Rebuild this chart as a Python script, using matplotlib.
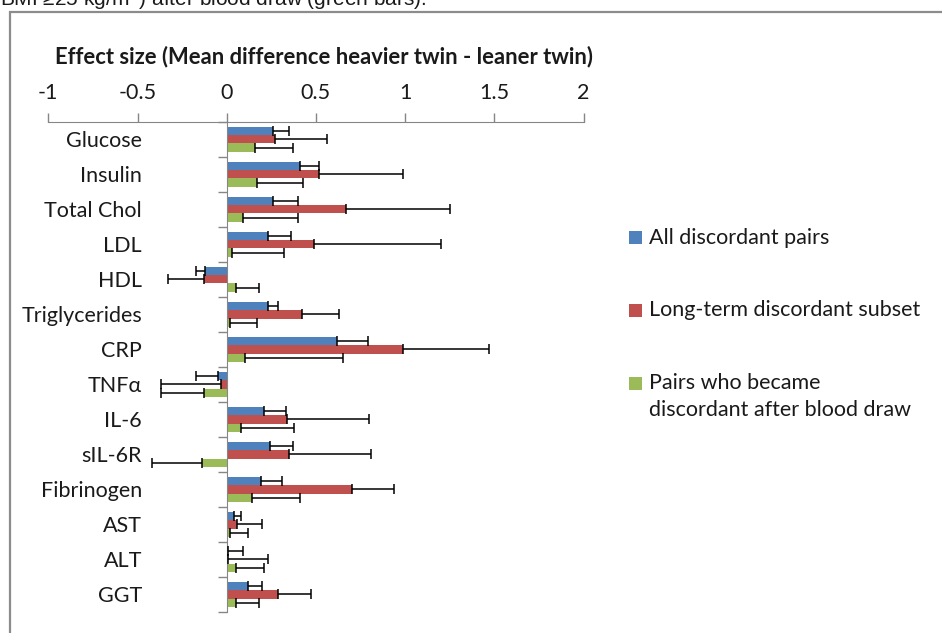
import numpy as np
import matplotlib
matplotlib.use("Agg")
import matplotlib.pyplot as plt
from matplotlib.patches import Rectangle

plt.rcParams["font.family"] = ["Lato", "DejaVu Sans"]

# Biomarkers, top to bottom
markers = ["Glucose", "Insulin", "Total Chol", "LDL", "HDL", "Triglycerides",
           "CRP", "TNF\u03b1", "IL-6", "sIL-6R", "Fibrinogen", "AST", "ALT", "GGT"]

# Mean difference (heavier twin - leaner twin) and error bar lengths
all_pairs = [0.26, 0.41, 0.26, 0.23, -0.12, 0.23, 0.62, -0.05, 0.21, 0.24, 0.19, 0.04, 0.01, 0.12]
all_err = [0.09, 0.11, 0.14, 0.13, 0.05, 0.06, 0.17, 0.12, 0.12, 0.13, 0.12, 0.04, 0.08, 0.08]

long_term = [0.27, 0.52, 0.67, 0.49, -0.13, 0.42, 0.99, -0.03, 0.34, 0.35, 0.70, 0.06, 0.01, 0.29]
long_err = [0.29, 0.47, 0.58, 0.71, 0.20, 0.21, 0.48, 0.34, 0.46, 0.46, 0.24, 0.14, 0.22, 0.18]

after_draw = [0.16, 0.17, 0.09, 0.03, 0.05, 0.02, 0.10, -0.13, 0.08, -0.14, 0.14, 0.02, 0.05, 0.05]
after_err = [0.21, 0.26, 0.31, 0.29, 0.13, 0.15, 0.55, 0.24, 0.30, 0.28, 0.27, 0.10, 0.16, 0.13]

series_names = ["All discordant pairs", "Long-term discordant subset",
                "Pairs who became\ndiscordant after blood draw"]
colors = ["#4F81BD", "#C0504D", "#9BBB59"]

W, H = 942, 633
fig = plt.figure(figsize=(W / 100, H / 100), dpi=100)

# plot area in pixel terms
x0, x1 = 48.3, 583.5
y_top, y_bot = 121.7, 612.0
ax = fig.add_axes([x0 / W, 1 - y_bot / H, (x1 - x0) / W, (y_bot - y_top) / H])

n = len(markers)
pos = np.arange(n)
bar_h = 0.24
offsets = [-bar_h, 0, bar_h]
gray = "#868686"
txt = "#1a1a1a"
fs = 15.5

for vals, errs, off, col, name in zip([all_pairs, long_term, after_draw],
                                      [all_err, long_err, after_err],
                                      offsets, colors, series_names):
    vals = np.array(vals)
    errs = np.array(errs)
    # error bars only extend away from zero
    lower = np.where(vals < 0, errs, 0)
    upper = np.where(vals >= 0, errs, 0)
    ax.barh(pos + off, vals, height=bar_h, color=col, zorder=2, label=name)
    ax.errorbar(vals, pos + off, xerr=[lower, upper], fmt="none", ecolor="black",
                elinewidth=1.1, capsize=3.5, capthick=1.1, zorder=3)

ax.set_xlim(-1, 2)
ax.set_ylim(n - 0.5, -0.5)
ax.set_xticks(np.arange(-1, 2.01, 0.5))
ax.set_xticklabels(["-1", "-0.5", "0", "0.5", "1", "1.5", "2"])
ax.xaxis.set_ticks_position("top")
ax.tick_params(axis="x", direction="out", length=6.5, width=1, color=gray,
               labelsize=fs, pad=7, labelcolor=txt)

# category boundaries as ticks, names at the centres placed low on the left
ax.set_yticks(np.arange(-0.5, n, 1))
ax.set_yticklabels([])
ax.set_yticks(pos, minor=True)
ax.set_yticklabels(markers, minor=True)
ax.tick_params(axis="y", which="major", direction="out", length=6.5, width=1, color=gray)
ax.tick_params(axis="y", which="minor", length=0, pad=61, labelsize=fs, labelcolor=txt)

ax.spines["left"].set_position(("data", 0))
ax.spines["left"].set_color(gray)
ax.spines["top"].set_color(gray)
ax.spines["right"].set_visible(False)
ax.spines["bottom"].set_visible(False)
ax.set_facecolor("none")

fig.text(55 / W, 1 - 57 / H, "Effect size (Mean difference heavier twin - leaner twin)",
         fontsize=15.8, fontweight="bold", va="center", ha="left", color=txt)

# legend: square beside the first line of each entry
leg_y = [238, 310, 383]
for name, col, ly in zip(series_names, colors, leg_y):
    fig.patches.append(Rectangle((629 / W, 1 - (ly + 6.5) / H), 13 / W, 13 / H,
                                 transform=fig.transFigure, facecolor=col,
                                 edgecolor="none"))
    for i, line in enumerate(name.split("\n")):
        fig.text(649 / W, 1 - (ly + 27 * i) / H, line, fontsize=fs, va="center",
                 ha="left", color=txt)

# chart border
fig.patches.append(Rectangle((10 / W, -0.1), 1.2, 1.1 - 12 / H, transform=fig.transFigure,
                             facecolor="none", edgecolor="#8c8c8c", linewidth=1.6))

# caption line above the chart
fig.text(0.0, 1 - 6 / H, "BMI \u226525 kg/m$^2$) after blood draw (green bars).",
         fontsize=15, family=["Liberation Sans", "DejaVu Sans"], va="baseline",
         ha="left", color=txt)

fig.savefig("out.png", dpi=100)
